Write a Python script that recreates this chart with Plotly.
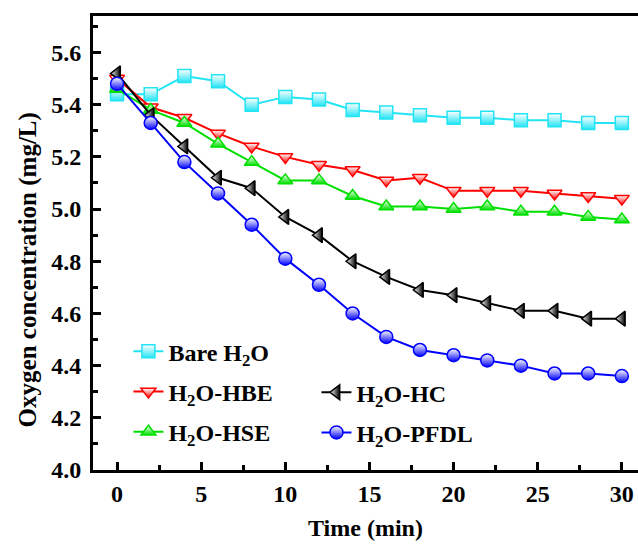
import plotly.graph_objects as go

time = [0, 2, 4, 6, 8, 10, 12, 14, 16, 18, 20, 22, 24, 26, 28, 30]
bare = [5.44, 5.44, 5.51, 5.49, 5.40, 5.43, 5.42, 5.38, 5.37, 5.36, 5.35, 5.35, 5.34, 5.34, 5.33, 5.33]
hbe = [5.50, 5.39, 5.35, 5.29, 5.24, 5.20, 5.17, 5.15, 5.11, 5.12, 5.07, 5.07, 5.07, 5.06, 5.05, 5.04]
hse = [5.46, 5.38, 5.33, 5.25, 5.18, 5.11, 5.11, 5.05, 5.01, 5.01, 5.00, 5.01, 4.99, 4.99, 4.97, 4.96]
hc = [5.52, 5.36, 5.24, 5.12, 5.08, 4.97, 4.90, 4.80, 4.74, 4.69, 4.67, 4.64, 4.61, 4.61, 4.58, 4.58]
pfdl = [5.48, 5.33, 5.18, 5.06, 4.94, 4.81, 4.71, 4.60, 4.51, 4.46, 4.44, 4.42, 4.40, 4.37, 4.37, 4.36]

names = ["Bare H<sub>2</sub>O", "H<sub>2</sub>O-HBE", "H<sub>2</sub>O-HSE", "H<sub>2</sub>O-HC", "H<sub>2</sub>O-PFDL"]
series = [bare, hbe, hse, hc, pfdl]
colors = ["#22E4F4", "#FF0000", "#00E000", "#000000", "#0000FF"]
symbols = ["square", "triangle-down", "triangle-up", "triangle-left", "circle"]
grad = ["vertical", "vertical", "vertical", "horizontal", "vertical"]
legends = ["legend", "legend", "legend", "legend2", "legend2"]

FONT = "Liberation Serif"
TF = dict(family=FONT, size=24, color="black", weight="bold")
fig = go.Figure()
for i, (n, s, c, sym, g, lg) in enumerate(zip(names, series, colors, symbols, grad, legends)):
    fig.add_trace(go.Scatter(
        x=time, y=s, name=n, mode="lines+markers",
        line=dict(color=c, width=2),
        marker=dict(symbol=sym, size=13, color="white",
                    gradient=dict(type=g, color=c),
                    line=dict(color=c, width=1.5)),
        legend=lg, legendgroup=str(i),
    ))

fig.add_annotation(text="Oxygen concentration (mg/L)", textangle=-90,
                   xref="paper", yref="paper", x=-0.119, y=0.44,
                   xanchor="center", yanchor="middle", showarrow=False,
                   font=dict(family=FONT, size=25, color="black", weight="bold"))

fig.update_layout(
    width=638, height=549,
    margin=dict(l=93, r=0, t=16, b=79),
    paper_bgcolor="white", plot_bgcolor="white",
    font=dict(family=FONT, size=20, color="black"),
    showlegend=True,
    legend=dict(x=0.065, y=0.31, xanchor="left", yanchor="top",
                bgcolor="rgba(0,0,0,0)", tracegroupgap=6,
                font=TF),
    legend2=dict(x=0.41, y=0.22, xanchor="left", yanchor="top",
                 bgcolor="rgba(0,0,0,0)", tracegroupgap=6,
                 font=TF),
    xaxis=dict(range=[-1.43, 30.96], tickvals=[0, 5, 10, 15, 20, 25, 30],
               ticks="inside", ticklen=8, tickwidth=3, tickcolor="black",
               minor=dict(dtick=2.5, tick0=0, ticks="inside", ticklen=5, tickwidth=3, tickcolor="black"),
               showline=True, linewidth=3, linecolor="black", mirror=True,
               showgrid=False, zeroline=False,
               tickfont=TF,
               title=dict(text="Time (min)", font=TF, standoff=14)),
    yaxis=dict(range=[4.0, 5.74], dtick=0.2, tick0=4.0, tickformat=".1f",
               ticks="inside", ticklen=8, tickwidth=3, tickcolor="black",
               minor=dict(dtick=0.1, tick0=4.0, ticks="inside", ticklen=5, tickwidth=3, tickcolor="black"),
               showline=True, linewidth=3, linecolor="black", mirror=False,
               showgrid=False, zeroline=False,
               tickfont=TF, ticklabelstandoff=4),
)

fig.write_html("out.html")
